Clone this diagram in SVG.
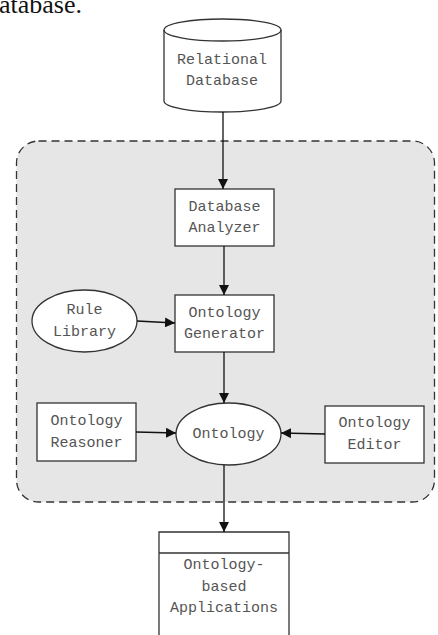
<svg xmlns="http://www.w3.org/2000/svg" width="438" height="635" viewBox="0 0 438 635">
<style>
.shape{fill:#fff;stroke:#333;stroke-width:1.3}
.lbl{font-family:"Liberation Mono",monospace;font-size:15px;fill:#555;text-anchor:middle;dominant-baseline:central}
.conn{stroke:#111;stroke-width:1.3;fill:none;marker-end:url(#arr)}
</style>
<defs>
<marker id="arr" viewBox="0 0 10 10" refX="10" refY="5" markerWidth="10" markerHeight="10" markerUnits="userSpaceOnUse" orient="auto">
<path d="M0,0 L10,5 L0,10 z" fill="#111"/>
</marker>
</defs>
<rect width="438" height="635" fill="#fff"/>
<text x="-1" y="13" font-family="Liberation Serif,serif" font-size="26" fill="#111">atabase.</text>
<g id="container">
<rect x="16.5" y="141" width="418" height="361" rx="22" ry="22" fill="#e6e6e6" stroke="#333" stroke-width="1.3" stroke-dasharray="8,5"/>
</g>
<g id="relational-database">
<path class="shape" d="M164,30 L164,101 A58.5,11 0 0 0 281,101 L281,30 A58.5,11 0 0 0 164,30 Z"/>
<path d="M164,30 A58.5,11 0 0 0 281,30" fill="none" stroke="#333" stroke-width="1.3"/>
<text class="lbl" x="222" y="60">Relational</text>
<text class="lbl" x="222" y="81">Database</text>
</g>
<g id="database-analyzer">
<rect class="shape" x="175" y="189" width="99" height="57"/>
<text class="lbl" x="224.5" y="207">Database</text>
<text class="lbl" x="224.5" y="228">Analyzer</text>
</g>
<g id="ontology-generator">
<rect class="shape" x="175" y="295" width="99" height="57"/>
<text class="lbl" x="224.5" y="313">Ontology</text>
<text class="lbl" x="224.5" y="334">Generator</text>
</g>
<g id="rule-library">
<ellipse class="shape" cx="84.5" cy="321" rx="52.5" ry="31"/>
<text class="lbl" x="84.5" y="310">Rule</text>
<text class="lbl" x="84.5" y="332">Library</text>
</g>
<g id="ontology">
<ellipse class="shape" cx="228.5" cy="434" rx="52.5" ry="31"/>
<text class="lbl" x="228.5" y="434">Ontology</text>
</g>
<g id="ontology-reasoner">
<rect class="shape" x="37" y="403" width="99" height="58"/>
<text class="lbl" x="86.5" y="421">Ontology</text>
<text class="lbl" x="86.5" y="443">Reasoner</text>
</g>
<g id="ontology-editor">
<rect class="shape" x="325" y="406" width="99" height="57"/>
<text class="lbl" x="374.5" y="423">Ontology</text>
<text class="lbl" x="374.5" y="445">Editor</text>
</g>
<g id="ontology-based-applications">
<path class="shape" d="M159,640 L159,532 L289,532 L289,640"/>
<line x1="159" y1="553" x2="289" y2="553" stroke="#333" stroke-width="1.3"/>
<text class="lbl" x="224" y="565">Ontology-</text>
<text class="lbl" x="224" y="587">based</text>
<text class="lbl" x="224" y="608">Applications</text>
</g>
<g id="connectors">
<line class="conn" x1="223" y1="112" x2="223" y2="189"/>
<line class="conn" x1="224" y1="246" x2="224" y2="295"/>
<line class="conn" x1="137" y1="321" x2="175" y2="323"/>
<line class="conn" x1="224" y1="352" x2="224" y2="403"/>
<line class="conn" x1="136" y1="432" x2="176" y2="433"/>
<line class="conn" x1="325" y1="434" x2="281" y2="433"/>
<line class="conn" x1="224" y1="465" x2="224" y2="532"/>
</g>
</svg>
